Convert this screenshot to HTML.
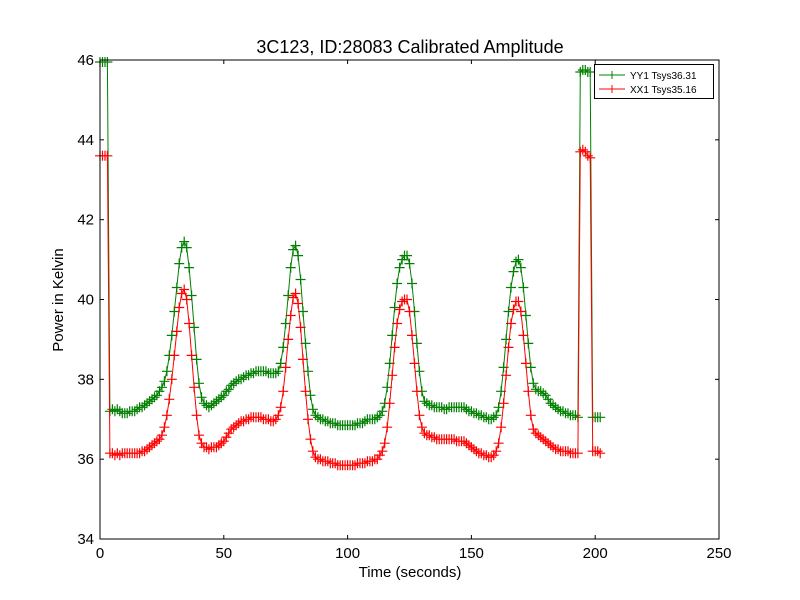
<!DOCTYPE html>
<html><head><meta charset="utf-8"><style>
body{margin:0;background:#fff;}
svg{display:block;font-family:"Liberation Sans","DejaVu Sans",sans-serif;}
</style></head><body>
<svg id="chart" width="800" height="600">
<rect x="0" y="0" width="800" height="600" fill="#fff"/>
<g id="plot"></g>
</svg>
<script>
const tickX = [0, 50, 100, 150, 200, 250];
const tickY = [34, 36, 38, 40, 42, 44, 46];
const seriesNames = ["YY1 Tsys36.31", "XX1 Tsys35.16"];
const yyValues = [45.95,45.95,45.95,45.95,
37.2,37.25,37.2,37.25,37.2,37.15,37.15,37.15,37.2,37.2,37.2,37.25,37.3,37.3,37.35,37.4,37.45,37.5,37.55,37.6,37.7,37.8,37.95,38.2,38.6,39.1,39.7,40.3,40.9,41.3,41.45,41.3,40.8,40.1,39.3,38.5,37.9,37.55,37.4,37.35,37.3,37.35,37.4,37.45,37.5,37.55,37.6,37.7,37.75,37.85,37.9,37.95,38.0,38.0,38.05,38.1,38.1,38.15,38.15,38.2,38.2,38.2,38.2,38.2,38.15,38.15,38.15,38.15,38.2,38.4,38.8,39.4,40.1,40.8,41.25,41.35,41.1,40.5,39.7,38.9,38.2,37.6,37.25,37.1,37.05,37.0,37.0,36.95,36.95,36.9,36.9,36.9,36.85,36.85,36.85,36.85,36.85,36.85,36.85,36.85,36.9,36.9,36.9,36.95,37.0,37.0,37.0,37.0,37.05,37.1,37.2,37.4,37.8,38.4,39.1,39.8,40.4,40.8,41.0,41.1,41.1,40.9,40.4,39.7,38.9,38.2,37.7,37.45,37.4,37.35,37.35,37.3,37.3,37.3,37.3,37.25,37.25,37.3,37.3,37.3,37.3,37.3,37.3,37.3,37.25,37.2,37.2,37.15,37.15,37.1,37.1,37.05,37.05,37.0,37.0,37.05,37.1,37.3,37.7,38.3,39.0,39.7,40.3,40.7,40.95,41.0,40.8,40.3,39.6,38.9,38.3,37.9,37.75,37.7,37.7,37.65,37.6,37.5,37.4,37.35,37.3,37.25,37.2,37.2,37.15,37.15,37.1,37.1,37.1,37.05,45.7,45.75,45.75,45.7,45.7,37.05,37.05,37.05,37.05];
const xxValues = [43.6,43.6,43.6,43.6,
36.15,36.15,36.1,36.15,36.1,36.15,36.15,36.15,36.15,36.15,36.15,36.15,36.15,36.2,36.2,36.25,36.3,36.35,36.4,36.45,36.5,36.6,36.8,37.1,37.5,38.0,38.6,39.2,39.8,40.15,40.25,40.0,39.4,38.6,37.8,37.1,36.6,36.4,36.3,36.3,36.25,36.3,36.3,36.3,36.35,36.4,36.45,36.55,36.65,36.75,36.8,36.85,36.9,36.95,36.95,37.0,37.0,37.05,37.05,37.05,37.05,37.05,37.0,37.0,37.0,36.95,36.95,37.0,37.1,37.3,37.7,38.3,39.0,39.6,40.05,40.15,39.9,39.3,38.5,37.7,37.0,36.5,36.2,36.05,36.0,36.0,35.95,35.95,35.95,35.9,35.9,35.9,35.85,35.85,35.85,35.85,35.85,35.85,35.85,35.85,35.9,35.9,35.9,35.9,35.95,35.95,35.95,36.0,36.0,36.1,36.2,36.4,36.8,37.4,38.1,38.8,39.4,39.75,39.95,40.0,40.0,39.7,39.1,38.4,37.7,37.1,36.8,36.65,36.6,36.6,36.55,36.55,36.5,36.5,36.5,36.5,36.5,36.5,36.5,36.5,36.45,36.45,36.45,36.45,36.4,36.35,36.3,36.25,36.2,36.15,36.15,36.1,36.1,36.05,36.05,36.1,36.2,36.4,36.8,37.4,38.1,38.8,39.4,39.75,39.95,39.95,39.7,39.1,38.4,37.7,37.1,36.75,36.65,36.6,36.55,36.5,36.45,36.4,36.35,36.3,36.25,36.25,36.2,36.2,36.2,36.2,36.15,36.15,36.15,36.15,43.7,43.75,43.7,43.6,43.55,36.2,36.2,36.2,36.15];

const L=100,R=719,T=60,B=539;
const xS=v=>L+(v-0)/(250-0)*(R-L);
const yS=v=>B-(v-34)/(46-34)*(B-T);
const NS="http://www.w3.org/2000/svg";
const g=document.getElementById('plot');
function mk(tag,attrs){const e=document.createElementNS(NS,tag);for(const k in attrs)e.setAttribute(k,attrs[k]);g.appendChild(e);return e;}

function drawSeries(vals,color,name){
  let d="",m="";
  vals.forEach((v,i)=>{const x=xS(i),y=yS(v);d+=(i?"L":"M")+x.toFixed(1)+" "+y.toFixed(1);
    m+="M"+(x-5).toFixed(1)+" "+y.toFixed(1)+"h10M"+x.toFixed(1)+" "+(y-5).toFixed(1)+"v10";});
  const ln=mk('path',{d:d,fill:"none",stroke:color,"stroke-width":1});
  
  
  const mp=mk('path',{d:m,fill:"none",stroke:color,"stroke-width":1.2});
  
  
}
drawSeries(yyValues,"#008000","yy1-series");
drawSeries(xxValues,"#ff0000","xx1-series");

const frame=mk('rect',{x:L,y:T,width:R-L,height:B-T,fill:"none",stroke:"#000","stroke-width":1});



tickX.forEach(v=>{const x=xS(v);
  mk('line',{x1:x,y1:B,x2:x,y2:B-4,stroke:"#000"});mk('line',{x1:x,y1:T,x2:x,y2:T+4,stroke:"#000"});
  const t=mk('text',{x:x,y:B+19,"text-anchor":"middle","font-size":15});t.textContent=v;
  
  
});
tickY.forEach(v=>{const y=yS(v);
  mk('line',{x1:L,y1:y,x2:L+4,y2:y,stroke:"#000"});mk('line',{x1:R,y1:y,x2:R-4,y2:y,stroke:"#000"});
  const t=mk('text',{x:L-6,y:y+5,"text-anchor":"end","font-size":15});t.textContent=v;
  
  
});
const title=mk('text',{x:410,y:53,"text-anchor":"middle","font-size":18});title.textContent="3C123, ID:28083 Calibrated Amplitude";


const xl=mk('text',{x:410,y:577,"text-anchor":"middle","font-size":15});xl.textContent="Time (seconds)";


const yl=mk('text',{x:63,y:300,"text-anchor":"middle","font-size":15,transform:"rotate(-90 63 300)"});yl.textContent="Power in Kelvin";



const lg=mk('rect',{x:594.5,y:64.5,width:119,height:34,fill:"#fff",stroke:"#000"});


[["#008000",0],["#ff0000",1]].forEach(([c,i])=>{const y=75+i*14;
  mk('line',{x1:599,y1:y,x2:625,y2:y,stroke:c});mk('path',{d:`M608 ${y}h8M612 ${y-4}v8`,stroke:c,fill:"none"});
  const t=mk('text',{x:630,y:y+4,"font-size":10});t.textContent=seriesNames[i];
  
  
});
</script>
</body></html>
